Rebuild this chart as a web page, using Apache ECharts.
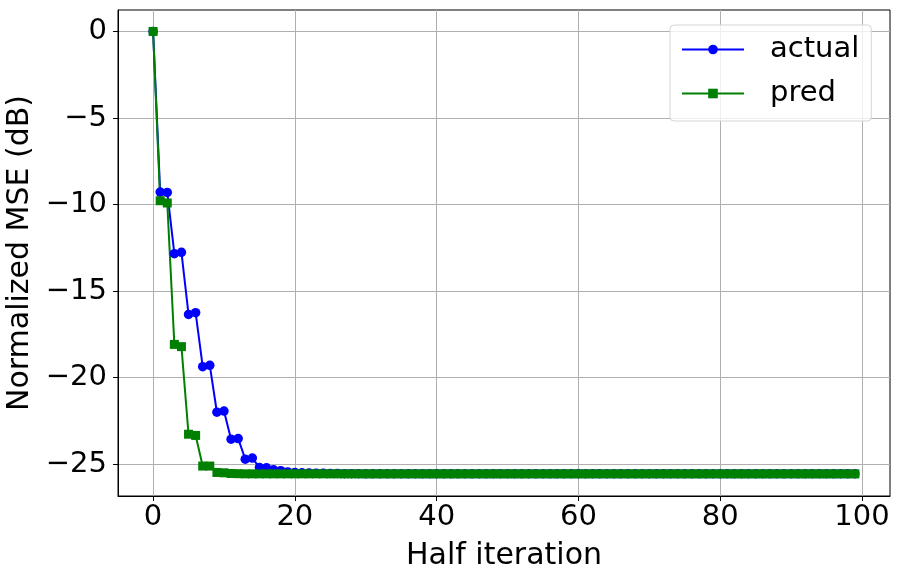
<!DOCTYPE html>
<html>
<head>
<meta charset="utf-8">
<script src="https://cdn.jsdelivr.net/npm/echarts@6/dist/echarts.min.js"></script>
<style>
  html, body { margin: 0; padding: 0; background: #fff; }
  #chart { width: 901px; height: 566px; }
</style>
</head>
<body>
<div id="chart"></div>
<script>
// normalized MSE per half iteration (dB)
const actual = [
  0, -9.28, -9.30, -12.84, -12.76, -16.35, -16.25, -19.37, -19.29, -22.00,
  -21.93, -23.56, -23.52, -24.71, -24.65, -25.19, -25.21, -25.33, -25.38, -25.45,
  -25.48, -25.50, -25.51, -25.52, -25.53, -25.54, -25.54, -25.55, -25.55, -25.55,
  -25.56, -25.56, -25.56, -25.56, -25.56, -25.56, -25.56, -25.56, -25.56, -25.56,
  -25.56, -25.56, -25.56, -25.56, -25.56, -25.56, -25.56, -25.56, -25.56, -25.56,
  -25.56, -25.56, -25.56, -25.56, -25.56, -25.56, -25.56, -25.56, -25.56, -25.56,
  -25.56, -25.56, -25.56, -25.56, -25.56, -25.56, -25.56, -25.56, -25.56, -25.56,
  -25.56, -25.56, -25.56, -25.56, -25.56, -25.56, -25.56, -25.56, -25.56, -25.56,
  -25.56, -25.56, -25.56, -25.56, -25.56, -25.56, -25.56, -25.56, -25.56, -25.56,
  -25.56, -25.56, -25.56, -25.56, -25.56, -25.56, -25.56, -25.56, -25.56, -25.56
];
const pred = [
  0, -9.78, -9.91, -18.08, -18.21, -23.27, -23.34, -25.11, -25.11, -25.48,
  -25.50, -25.54, -25.55, -25.56, -25.56, -25.56, -25.56, -25.56, -25.56, -25.56,
  -25.56, -25.56, -25.56, -25.56, -25.56, -25.56, -25.56, -25.56, -25.56, -25.56,
  -25.56, -25.56, -25.56, -25.56, -25.56, -25.56, -25.56, -25.56, -25.56, -25.56,
  -25.56, -25.56, -25.56, -25.56, -25.56, -25.56, -25.56, -25.56, -25.56, -25.56,
  -25.56, -25.56, -25.56, -25.56, -25.56, -25.56, -25.56, -25.56, -25.56, -25.56,
  -25.56, -25.56, -25.56, -25.56, -25.56, -25.56, -25.56, -25.56, -25.56, -25.56,
  -25.56, -25.56, -25.56, -25.56, -25.56, -25.56, -25.56, -25.56, -25.56, -25.56,
  -25.56, -25.56, -25.56, -25.56, -25.56, -25.56, -25.56, -25.56, -25.56, -25.56,
  -25.56, -25.56, -25.56, -25.56, -25.56, -25.56, -25.56, -25.56, -25.56, -25.56
];
const xTicks = [0, 20, 40, 60, 80, 100];
const yTicks = [-25, -20, -15, -10, -5, 0];

const FONT = "DejaVu Sans";
const FS = 29;
const minus = (v) => String(v).replace("-", "\u2212");

const chart = echarts.init(document.getElementById("chart"), null, { renderer: "canvas" });

chart.setOption({
  animation: false,
  textStyle: { fontFamily: FONT },
  grid: {
    left: 118, right: 11, top: 10, bottom: 70,
    outerBoundsMode: "none",
    containLabel: false,
    show: true, borderColor: "#000", borderWidth: 1, backgroundColor: "#fff"
  },
  legend: {
    orient: "vertical",
    left: 670,
    top: 25,
    padding: [10, 12, 13, 11],
    itemGap: 15,
    itemWidth: 62,
    itemHeight: 12,
    backgroundColor: "rgba(255,255,255,0.8)",
    borderColor: "#d5d5d5",
    borderWidth: 1,
    borderRadius: 4,
    textStyle: { fontSize: FS, color: "#000", fontFamily: FONT, padding: [0, 0, 0, 21] },
    data: ["actual", "pred"]
  },
  xAxis: {
    type: "value",
    min: -4.95,
    max: 103.95,
    name: "Half iteration",
    nameLocation: "middle",
    nameGap: 45,
    nameTextStyle: { fontSize: 30, color: "#000", fontFamily: FONT },
    axisLine: { show: true, onZero: false, lineStyle: { color: "#000", width: 1 } },
    axisTick: { show: true, inside: false, length: 5, lineStyle: { color: "#000" }, customValues: xTicks },
    axisLabel: { fontSize: FS, color: "#000", margin: 7, customValues: xTicks, formatter: minus },
    splitLine: { show: true, lineStyle: { color: "#b0b0b0", width: 1 } }
  },
  yAxis: {
    type: "value",
    min: -26.84,
    max: 1.24,
    name: "Normalized MSE (dB)",
    nameLocation: "middle",
    nameGap: 78,
    nameTextStyle: { fontSize: 30, color: "#000", fontFamily: FONT },
    axisLine: { show: true, onZero: false, lineStyle: { color: "#000", width: 1 } },
    axisTick: { show: true, inside: false, length: 5, lineStyle: { color: "#000" }, customValues: yTicks },
    axisLabel: { fontSize: FS, color: "#000", margin: 11, customValues: yTicks, formatter: minus },
    splitLine: { show: true, lineStyle: { color: "#b0b0b0", width: 1 } }
  },
  series: [
    {
      name: "actual",
      type: "line",
      data: actual.map((v, i) => [i, v]),
      symbol: "circle",
      symbolSize: 9.5,
      showAllSymbol: true,
      lineStyle: { color: "#0000ff", width: 2 },
      itemStyle: { color: "#0000ff" }
    },
    {
      name: "pred",
      type: "line",
      data: pred.map((v, i) => [i, v]),
      symbol: "rect",
      symbolSize: 9,
      showAllSymbol: true,
      lineStyle: { color: "#008000", width: 2 },
      itemStyle: { color: "#008000" }
    }
  ]
});
</script>
</body>
</html>
